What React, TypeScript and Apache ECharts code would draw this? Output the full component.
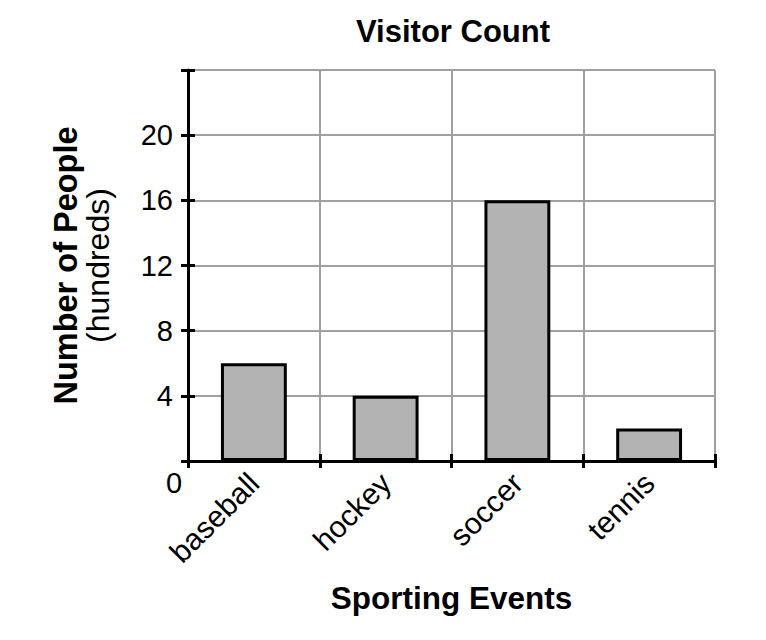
import React, { useEffect, useRef } from "react";
import * as echarts from "echarts";

const categories = ["baseball", "hockey", "soccer", "tennis"];
const visitors = [6, 4, 16, 2];
const yMin = 0;
const yMax = 24;
const yInterval = 4;

const FONT = "Liberation Sans, Arial, sans-serif";

export default function App() {
  const ref = useRef<HTMLDivElement>(null);
  useEffect(() => {
    if (!ref.current) return;
    const chart = echarts.init(ref.current, undefined, { renderer: "svg" });
    chart.setOption({
      animation: false,
      backgroundColor: "#ffffff",
      textStyle: { fontFamily: FONT, color: "#000" },
      title: {
        text: "Visitor Count",
        left: 448,
        top: 11,
        textAlign: "center",
        textStyle: { fontFamily: FONT, fontSize: 31, fontWeight: "bold", color: "#000" },
      },
      grid: { left: 188, right: 51, top: 70, bottom: 179, containLabel: false },
      xAxis: [
        {
          type: "category",
          data: categories,
          position: "bottom",
          name: "Sporting Events",
          nameLocation: "middle",
          nameGap: 121,
          nameTextStyle: { fontFamily: FONT, fontSize: 31.5, fontWeight: "bold", color: "#000" },
          axisLine: { show: true, lineStyle: { color: "#000", width: 3 } },
          axisTick: { show: true, alignWithLabel: false, interval: 0, length: 7, lineStyle: { color: "#000", width: 3 } },
          axisLabel: { show: true, interval: 0, rotate: 45, margin: 17, fontFamily: FONT, fontSize: 30, color: "#000" },
          splitLine: { show: true, interval: 0, lineStyle: { color: "#a0a0a0", width: 2 } },
        },
        {
          type: "category",
          data: categories,
          position: "bottom",
          axisLine: { show: false },
          axisTick: { show: true, inside: true, alignWithLabel: false, interval: 0, length: 7, lineStyle: { color: "#000", width: 3 } },
          axisLabel: { show: false },
          splitLine: { show: false },
        },
      ],
      yAxis: [
        {
          type: "value",
          min: yMin,
          max: yMax,
          interval: yInterval,
          position: "left",
          name: "{b|Number of People}\n{n|(hundreds)}",
          nameLocation: "middle",
          nameGap: 74,
          nameTextStyle: {
            fontFamily: FONT,
            color: "#000",
            rich: {
              b: { fontFamily: FONT, fontSize: 32.5, fontWeight: "bold", lineHeight: 32, color: "#000" },
              n: { fontFamily: FONT, fontSize: 32, lineHeight: 32, color: "#000" },
            },
          },
          axisLine: { show: true, lineStyle: { color: "#000", width: 3 } },
          axisTick: { show: true, length: 7, lineStyle: { color: "#000", width: 3 } },
          axisLabel: {
            margin: 15,
            fontFamily: FONT,
            fontSize: 29,
            color: "#000",
            formatter: (v: number) => (v === yMin || v === yMax ? "" : String(v)),
          },
          splitLine: { show: true, lineStyle: { color: "#a0a0a0", width: 2 } },
        },
        {
          type: "value",
          min: yMin,
          max: yMax,
          interval: yInterval,
          position: "left",
          axisLine: { show: false },
          axisTick: { show: true, inside: true, length: 7, lineStyle: { color: "#000", width: 3 } },
          axisLabel: { show: false },
          splitLine: { show: false },
        },
      ],
      graphic: [
        {
          type: "text",
          x: 174,
          y: 483,
          style: { text: "0", fontFamily: FONT, fontSize: 29, fill: "#000", align: "center", verticalAlign: "middle" },
        },
      ],
      series: [
        {
          type: "bar",
          xAxisIndex: 0,
          yAxisIndex: 0,
          data: visitors,
          barWidth: "50%",
          itemStyle: { color: "#b3b3b3", borderColor: "#000", borderWidth: 3 },
        },
      ],
    });
    return () => chart.dispose();
  }, []);
  return <div ref={ref} style={{ position: "fixed", left: 0, top: 0, width: 766, height: 640 }} />;
}
